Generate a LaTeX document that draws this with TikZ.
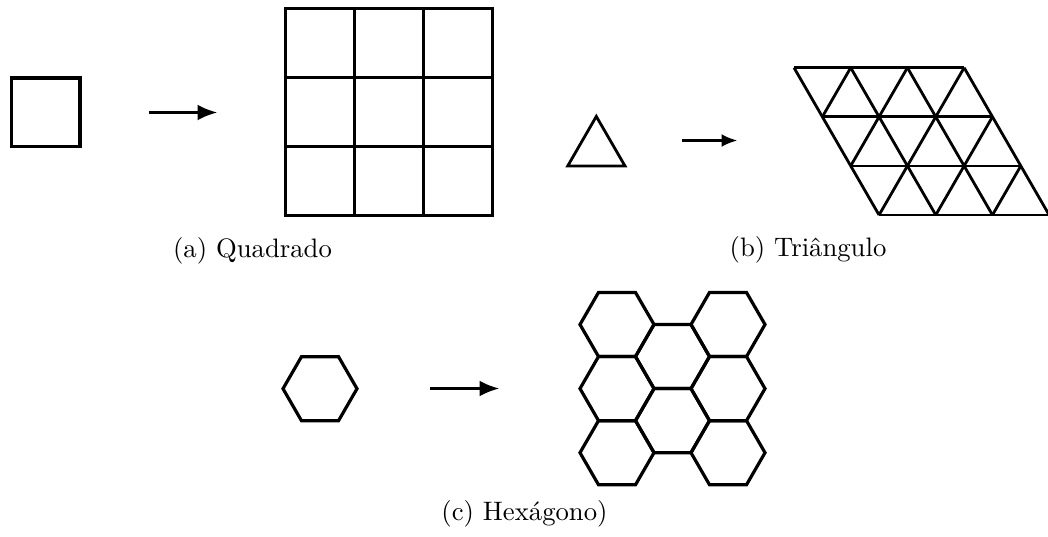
\documentclass[tikz,border=0pt]{standalone}
\usepackage{fontspec}
\setmainfont{lmroman10-regular.otf}
\usetikzlibrary{arrows.meta}
\begin{document}
\begin{tikzpicture}[x=1pt,y=-1pt,
  figline/.style={line width=3.2pt, line join=miter, line cap=rect},
  triline/.style={line width=2.8pt, line join=miter},
  mapsto/.style={line width=3.2pt,-{Latex[length=20pt,width=16pt]}},
  mapstosmall/.style={line width=2.8pt,-{Latex[length=16pt,width=13pt]}},
  captext/.style={font=\fontsize{26.7}{32}\selectfont, inner sep=0pt, anchor=base},
  hexa/.pic={\draw[figline, line cap=butt] (0:37) -- (60:37) -- (120:37) -- (180:37) -- (240:37) -- (300:37) -- cycle;}
]
\useasboundingbox (0,0) rectangle (1048,536);

% ---------- (a) square ----------
\draw[figline] (11.5,78) rectangle (80,146.7);
\coordinate (aS) at (149.3,112.5);
\coordinate (aE) at (217.5,112.5);
\draw[mapsto] (aS) -- (aE);
\begin{scope}[shift={(285.7,8.3)}]
  \foreach \k in {0,1,2,3} {
    \draw[figline] (\k*69,0) -- (\k*69,207);
    \draw[figline] (0,\k*69) -- (207,\k*69);
  }
\end{scope}
\node[captext] (capa) at (252.5,257.5) {(a) Quadrado};

% ---------- (b) triangle ----------
\draw[triline] (567.7,166) -- (625,166) -- (596.3,116.4) -- cycle;
\coordinate (bS) at (681.7,140.5);
\coordinate (bE) at (737.5,140.5);
\draw[mapstosmall] (bS) -- (bE);
\begin{scope}[shift={(794,67.7)}, x={(56.7pt,0pt)}, y={(28.35pt,-49.1pt)}]
  \foreach \k in {0,1,2,3} {
    \draw[triline] (0,\k) -- (3,\k);
    \draw[triline] (\k,0) -- (\k,3);
  }
  \draw[triline] (1,0) -- (0,1);
  \draw[triline] (2,0) -- (0,2);
  \draw[triline] (3,0) -- (0,3);
  \draw[triline] (3,1) -- (1,3);
  \draw[triline] (3,2) -- (2,3);
\end{scope}
\node[captext] (capb) at (808,256.7) {(b) Triângulo};

% ---------- (c) hexagon ----------
\pic at (320,388.7) {hexa};
\coordinate (cS) at (430,388.5);
\coordinate (cE) at (499.5,388.5);
\draw[mapsto] (cS) -- (cE);
\foreach \y in {324.5,388.6,452.7} {
  \pic at (617,\y) {hexa};
  \pic at (728,\y) {hexa};
}
\foreach \y in {356.5,420.6} {
  \pic at (672.5,\y) {hexa};
}
\node[captext] (capc) at (524.5,520.5) {(c) Hexágono)};
\end{tikzpicture}
\end{document}
